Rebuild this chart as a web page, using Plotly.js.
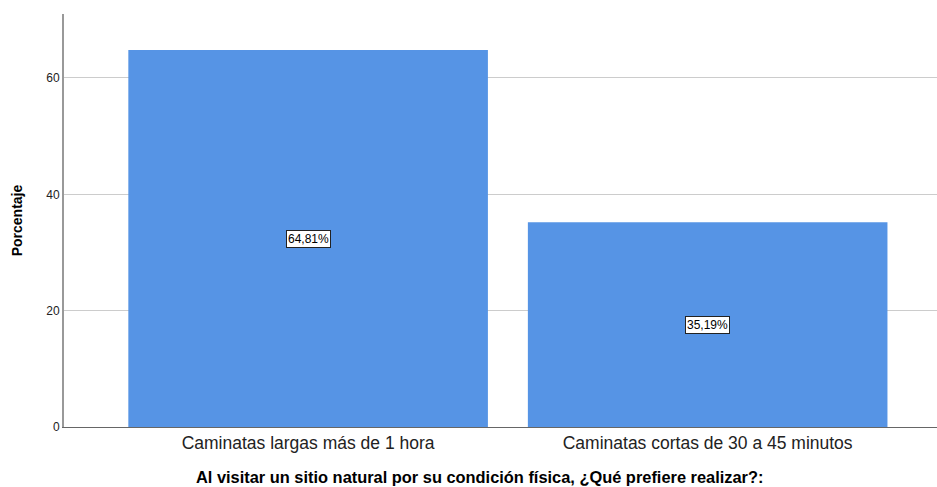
<!DOCTYPE html>
<html>
<head>
<meta charset="utf-8">
<script src="https://cdn.plot.ly/plotly-3.0.1.min.js"></script>
<style>html,body{margin:0;padding:0;background:#fff;}#chart{width:937px;height:487px;}</style>
</head>
<body>
<div id="chart"></div>
<script>
const categories = ["Caminatas largas más de 1 hora", "Caminatas cortas de 30 a 45 minutos"];
const percentages = [64.81, 35.19];
const labels = ["64,81%", "35,19%"];
const yTicks = [0, 20, 40, 60];
const xTitle = "Al visitar un sitio natural por su condición física, ¿Qué prefiere realizar?:";

const trace = {
  type: "bar",
  x: [0, 1],
  y: percentages,
  width: 0.9,
  marker: {color: "#5694E5", line: {width: 0}},
  hoverinfo: "none"
};

const annotations = percentages.map((v, i) => ({
  x: i, y: v / 2, xref: "x", yref: "y",
  text: labels[i], showarrow: false,
  bgcolor: "#ffffff", bordercolor: "#222", borderwidth: 1, borderpad: 1,
  font: {family: "Liberation Sans, Arial, sans-serif", size: 12, color: "#000"}
}));
annotations.push({
  xref: "paper", yref: "paper", x: 0.4765, y: -0.122,
  xanchor: "center", yanchor: "middle", showarrow: false,
  text: "<b>" + xTitle + "</b>",
  font: {family: "Liberation Sans, Arial, sans-serif", size: 16.4, color: "#000"}
});

const layout = {
  width: 937, height: 487,
  margin: {l: 64, r: 0, t: 14, b: 60},
  paper_bgcolor: "#fff", plot_bgcolor: "#fff",
  showlegend: false,
  font: {family: "Liberation Sans, Arial, sans-serif", color: "#000"},
  xaxis: {
    range: [-0.611, 1.574],
    tickvals: [0, 1], ticktext: categories,
    tickfont: {size: 17.5, color: "#222"},
    showgrid: false, zeroline: false,
    showline: true, linecolor: "#666", linewidth: 1,
    ticks: "",
    automargin: false
  },
  yaxis: {
    range: [0, 71],
    tickvals: yTicks,
    tickfont: {size: 12, color: "#222"},
    showgrid: true, gridcolor: "#cccccc", gridwidth: 1,
    zeroline: false,
    showline: true, linecolor: "#999", linewidth: 2,
    ticks: "",
    title: {text: "<b>Porcentaje</b>", font: {size: 14, color: "#000"}, standoff: 20},
    automargin: false
  },
  annotations: annotations
};

Plotly.newPlot("chart", [trace], layout, {staticPlot: true, displayModeBar: false});
</script>
</body>
</html>
